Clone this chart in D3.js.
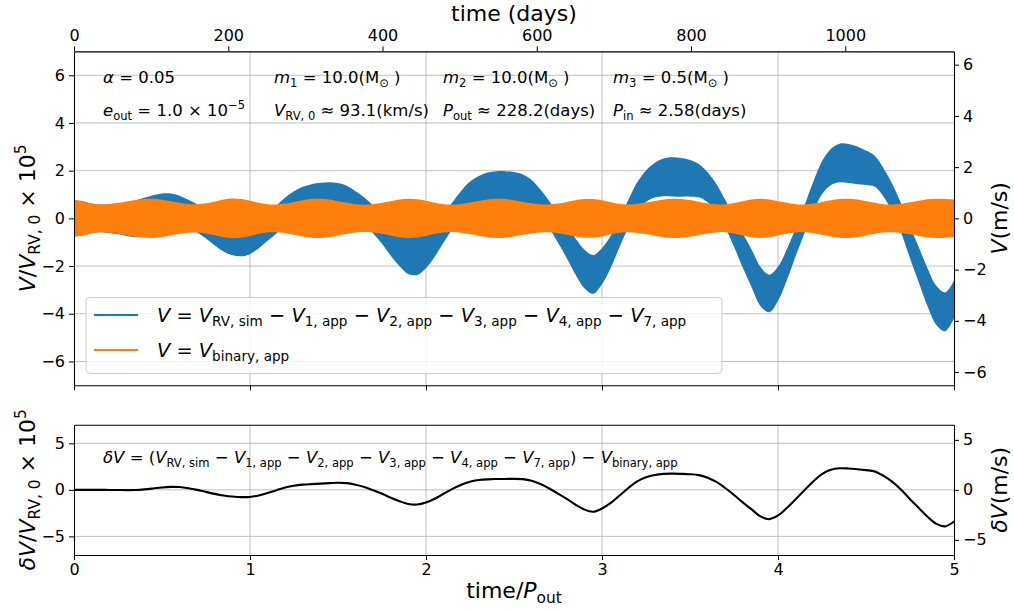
<!DOCTYPE html>
<html>
<head>
<meta charset="utf-8">
<script src="https://cdn.jsdelivr.net/npm/d3@7"></script>
<style>
  body { margin: 0; background: #fff; }
  text { font-family: "DejaVu Sans", sans-serif; fill: #000; }
</style>
</head>
<body>
<svg id="chart" width="1014" height="612"></svg>
<script>
// orbit / normalisation constants
const pOut = 228.2;   // days
const vRV0 = 93.1;    // km/s
const toMs = vRV0 * 1000 * 1e-5;   // (V/V_RV,0 x 1e5) -> m/s

// sample times in units of P_out, step 0.05
const phase = d3.range(101).map(i => i * 0.05);

// residual dV/V_RV,0 x 1e5 (black curve, bottom panel)
const deltaV = [
  0, 0, 0, 0, -0.01, -0.02, -0.03, -0.02, 0.05, 0.15,
  0.26, 0.32, 0.30, 0.18, 0.0, -0.22, -0.43, -0.6, -0.72, -0.78,
  -0.76, -0.6, -0.35, -0.05, 0.25, 0.45, 0.56, 0.62, 0.67, 0.72,
  0.76, 0.72, 0.55, 0.30, -0.05, -0.42, -0.85, -1.22, -1.52, -1.57,
  -1.35, -0.95, -0.42, 0.1, 0.55, 0.88, 1.05, 1.13, 1.16, 1.17,
  1.18, 1.15, 0.98, 0.62, 0.15, -0.4, -0.98, -1.6, -2.12, -2.35,
  -2.0, -1.4, -0.6, 0.2, 0.9, 1.35, 1.6, 1.72, 1.74, 1.72,
  1.68, 1.58, 1.3, 0.85, 0.2, -0.55, -1.35, -2.1, -2.85, -3.15,
  -2.75, -1.95, -1.0, -0.05, 0.9, 1.7, 2.15, 2.32, 2.3, 2.22,
  2.12, 1.98, 1.5, 0.85, 0.0, -1.0, -1.95, -2.9, -3.65, -3.92,
  -3.4
];

// envelope half-width of the fast binary signal V_binary,app
const binaryAmp = [
  0.76, 0.72, 0.62, 0.58, 0.60, 0.65, 0.71, 0.77, 0.81, 0.82,
  0.78, 0.72, 0.65, 0.60, 0.59, 0.63, 0.71, 0.79, 0.83, 0.81,
  0.74, 0.65, 0.59, 0.58, 0.62, 0.69, 0.76, 0.81, 0.82, 0.79,
  0.72, 0.65, 0.59, 0.57, 0.59, 0.65, 0.72, 0.79, 0.82, 0.80,
  0.74, 0.65, 0.59, 0.57, 0.60, 0.66, 0.73, 0.79, 0.82, 0.81,
  0.76, 0.69, 0.63, 0.59, 0.58, 0.62, 0.69, 0.76, 0.81, 0.81,
  0.76, 0.67, 0.60, 0.58, 0.61, 0.66, 0.73, 0.79, 0.82, 0.81,
  0.77, 0.70, 0.63, 0.59, 0.58, 0.64, 0.72, 0.79, 0.82, 0.79,
  0.72, 0.65, 0.59, 0.58, 0.62, 0.69, 0.76, 0.81, 0.82, 0.79,
  0.72, 0.65, 0.59, 0.58, 0.61, 0.67, 0.74, 0.80, 0.82, 0.81,
  0.79
];

const phaseTicks = [0, 1, 2, 3, 4, 5];
const dayTicks = [0, 200, 400, 600, 800, 1000];
const vTicks = [-6, -4, -2, 0, 2, 4, 6];
const vMsTicks = [-6, -4, -2, 0, 2, 4, 6];
const dvTicks = [-5, 0, 5];
const dvMsTicks = [-5, 0, 5];

const data = phase.map((t, i) => ({ t: t, dv: deltaV[i], amp: binaryAmp[i] }));

const left = 74, right = 954;
const top1 = 51.4, bot1 = 385.3;
const top2 = 424.7, bot2 = 555;
const blue = "#1f77b4", orange = "#ff7f0e", gridCol = "#b0b0b0";
const intFmt = d3.format("d");

const svg = d3.select("#chart");

let x = d3.scaleLinear().domain([0, 5]).range([left, right]);
let xDays = d3.scaleLinear().domain([0, 5 * pOut]).range([left, right]);
let y1 = d3.scaleLinear().domain([-7, 7]).range([bot1, top1]);
let y1ms = d3.scaleLinear().domain([-7 * toMs, 7 * toMs]).range([bot1, top1]);
let y2 = d3.scaleLinear().domain([-7, 7]).range([bot2, top2]);
let y2ms = d3.scaleLinear().domain([-7 * toMs, 7 * toMs]).range([bot2, top2]);

// small helper for matplotlib-like mathtext: [string, kind]
function mathText(sel, parts, size) {
    let t = sel.append("text").style("font-size", size + "px").style("white-space", "pre");
    let off = 0;
    parts.forEach(p => {
        let str = p[0], kind = p[1] || "";
        let target = 0, fs = size;
        if (kind === "sub") { target = 0.22 * size; fs = 0.7 * size; }
        if (kind === "sup") { target = -0.42 * size; fs = 0.7 * size; }
        t.append("tspan")
            .attr("dy", (target - off).toFixed(2))
            .style("font-size", fs + "px")
            .style("font-style", kind === "i" ? "italic" : "normal")
            .text(str);
        off = target;
    });
    return t;
}

function grid(g, yScale, yTicks, y0, y1_) {
    g.selectAll(".vg").data(phaseTicks.slice(1, -1)).enter().append("line")
        .attr("x1", d => x(d)).attr("x2", d => x(d))
        .attr("y1", y0).attr("y2", y1_)
        .attr("stroke", gridCol).attr("stroke-width", 0.8);
    g.selectAll(".hg").data(yTicks).enter().append("line")
        .attr("x1", left).attr("x2", right)
        .attr("y1", d => yScale(d)).attr("y2", d => yScale(d))
        .attr("stroke", gridCol).attr("stroke-width", 0.8);
}

function styleAxis(g) {
    g.select(".domain").attr("stroke", "#000").attr("stroke-width", 1.1);
    g.selectAll(".tick line").attr("stroke", "#000").attr("stroke-width", 1);
    g.selectAll(".tick text").style("font-size", "16px").attr("fill", "#000")
        .style("font-family", "'DejaVu Sans', sans-serif");
}

// ---------- top panel ----------
let topG = svg.append("g");
grid(topG, y1, vTicks, top1, bot1);

let blueArea = d3.area()
    .x(d => x(d.t))
    .y0(d => y1(d.dv - d.amp))
    .y1(d => y1(d.dv + d.amp))
    .curve(d3.curveCatmullRom);

let orangeArea = d3.area()
    .x(d => x(d.t))
    .y0(d => y1(-d.amp))
    .y1(d => y1(d.amp))
    .curve(d3.curveCatmullRom);

topG.append("path").datum(data).attr("d", blueArea).attr("fill", blue);
topG.append("path").datum(data).attr("d", orangeArea).attr("fill", orange);

topG.append("g").attr("transform", `translate(0,${bot1})`)
    .call(d3.axisBottom(x).tickValues(phaseTicks).tickFormat("").tickSize(5).tickSizeOuter(0))
    .call(styleAxis);
topG.append("g").attr("transform", `translate(0,${top1})`)
    .call(d3.axisTop(xDays).tickValues(dayTicks).tickFormat(intFmt).tickSize(5).tickPadding(5).tickSizeOuter(0))
    .call(styleAxis);
topG.append("g").attr("transform", `translate(${left},0)`)
    .call(d3.axisLeft(y1).tickValues(vTicks).tickSize(5).tickPadding(4).tickSizeOuter(0))
    .call(styleAxis);
topG.append("g").attr("transform", `translate(${right},0)`)
    .call(d3.axisRight(y1ms).tickValues(vMsTicks).tickSize(5).tickPadding(4).tickSizeOuter(0))
    .call(styleAxis);

// parameter annotations
const annSize = 16.5;
mathText(topG, [["α", "i"], [" = 0.05"]], annSize).attr("x", 103).attr("y", 83);
mathText(topG, [["e", "i"], ["out", "sub"], [" = 1.0 × 10"], ["−5", "sup"]], annSize).attr("x", 103).attr("y", 116);
mathText(topG, [["m", "i"], ["1", "sub"], [" = 10.0(M"], ["⊙", "sub"], [" )"]], annSize).attr("x", 274).attr("y", 83);
mathText(topG, [["V", "i"], ["RV, 0", "sub"], [" ≈ 93.1(km/s)"]], annSize).attr("x", 274).attr("y", 116);
mathText(topG, [["m", "i"], ["2", "sub"], [" = 10.0(M"], ["⊙", "sub"], [" )"]], annSize).attr("x", 443).attr("y", 83);
mathText(topG, [["P", "i"], ["out", "sub"], [" ≈ 228.2(days)"]], annSize).attr("x", 443).attr("y", 116);
mathText(topG, [["m", "i"], ["3", "sub"], [" = 0.5(M"], ["⊙", "sub"], [" )"]], annSize).attr("x", 613).attr("y", 83);
mathText(topG, [["P", "i"], ["in", "sub"], [" ≈ 2.58(days)"]], annSize).attr("x", 613).attr("y", 116);

// legend
let leg = topG.append("g");
leg.append("rect").attr("x", 86).attr("y", 297.5).attr("width", 636).attr("height", 76)
    .attr("rx", 4).attr("fill", "#fff").attr("fill-opacity", 0.8)
    .attr("stroke", "#cccccc").attr("stroke-width", 1);
const legSize = 19.4;
const legendItems = [
    { color: blue, parts: [["V", "i"], [" = "], ["V", "i"], ["RV, sim", "sub"], [" − "], ["V", "i"], ["1, app", "sub"],
        [" − "], ["V", "i"], ["2, app", "sub"], [" − "], ["V", "i"], ["3, app", "sub"], [" − "], ["V", "i"], ["4, app", "sub"],
        [" − "], ["V", "i"], ["7, app", "sub"]] },
    { color: orange, parts: [["V", "i"], [" = "], ["V", "i"], ["binary, app", "sub"]] }
];
legendItems.forEach((it, i) => {
    let yy = 315 + i * 35;
    leg.append("line").attr("x1", 94).attr("x2", 138).attr("y1", yy).attr("y2", yy)
        .attr("stroke", it.color).attr("stroke-width", 2.1);
    mathText(leg, it.parts, legSize).attr("x", 157).attr("y", yy + 6.5);
});

// axis labels
const labSize = 22;
mathText(svg, [["time (days)"]], labSize).attr("x", (left + right) / 2).attr("y", 21).attr("text-anchor", "middle");
mathText(svg, [["V", "i"], ["/"], ["V", "i"], ["RV, 0", "sub"], [" × 10"], ["5", "sup"]], labSize)
    .attr("text-anchor", "middle")
    .attr("transform", `translate(35,${(top1 + bot1) / 2}) rotate(-90)`);
mathText(svg, [["V", "i"], ["(m/s)"]], labSize)
    .attr("text-anchor", "middle")
    .attr("transform", `translate(1007,${(top1 + bot1) / 2}) rotate(-90)`);

// ---------- bottom panel ----------
let botG = svg.append("g");
grid(botG, y2, dvTicks, top2, bot2);

let dvLine = d3.line()
    .x(d => x(d.t))
    .y(d => y2(d.dv))
    .curve(d3.curveCatmullRom);
botG.append("path").datum(data).attr("d", dvLine)
    .attr("fill", "none").attr("stroke", "#000").attr("stroke-width", 2.1);

botG.append("g").attr("transform", `translate(0,${bot2})`)
    .call(d3.axisBottom(x).tickValues(phaseTicks).tickFormat(intFmt).tickSize(5).tickPadding(4).tickSizeOuter(0))
    .call(styleAxis);
botG.append("g").attr("transform", `translate(0,${top2})`)
    .call(d3.axisTop(x).tickValues([]).tickSize(0).tickSizeOuter(0))
    .call(styleAxis);
botG.append("g").attr("transform", `translate(${left},0)`)
    .call(d3.axisLeft(y2).tickValues(dvTicks).tickSize(5).tickPadding(4).tickSizeOuter(0))
    .call(styleAxis);
botG.append("g").attr("transform", `translate(${right},0)`)
    .call(d3.axisRight(y2ms).tickValues(dvMsTicks).tickSize(5).tickPadding(4).tickSizeOuter(0))
    .call(styleAxis);

mathText(botG, [["δV", "i"], [" = ("], ["V", "i"], ["RV, sim", "sub"], [" − "], ["V", "i"], ["1, app", "sub"],
    [" − "], ["V", "i"], ["2, app", "sub"], [" − "], ["V", "i"], ["3, app", "sub"], [" − "], ["V", "i"], ["4, app", "sub"],
    [" − "], ["V", "i"], ["7, app", "sub"], [") − "], ["V", "i"], ["binary, app", "sub"]], annSize)
    .attr("x", 103).attr("y", 463);

mathText(svg, [["time/"], ["P", "i"], ["out", "sub"]], labSize)
    .attr("x", (left + right) / 2).attr("y", 598).attr("text-anchor", "middle");
mathText(svg, [["δV", "i"], ["/"], ["V", "i"], ["RV, 0", "sub"], [" × 10"], ["5", "sup"]], labSize)
    .attr("text-anchor", "middle")
    .attr("transform", `translate(35,${(top2 + bot2) / 2}) rotate(-90)`);
mathText(svg, [["δV", "i"], ["(m/s)"]], labSize)
    .attr("text-anchor", "middle")
    .attr("transform", `translate(1007,${(top2 + bot2) / 2}) rotate(-90)`);
</script>
</body>
</html>
